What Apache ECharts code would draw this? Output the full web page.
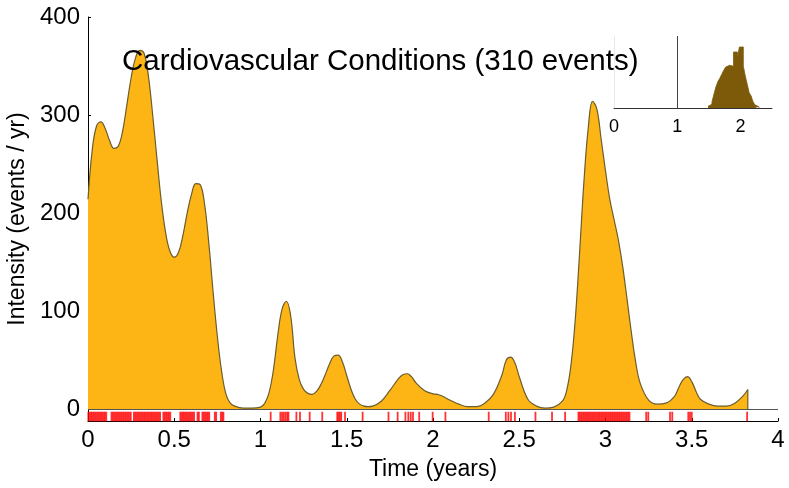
<!DOCTYPE html>
<html>
<head>
<meta charset="utf-8">
<script src="https://cdn.jsdelivr.net/npm/echarts@6/dist/echarts.min.js"></script>
<style>
  html, body { margin: 0; padding: 0; background: #fff; }
  #chart { width: 789px; height: 488px; }
</style>
</head>
<body>
<div id="chart"></div>
<script>
// ---- intensity curve (time in years, events / yr) ----
const curveTimes = [0, 0.025, 0.05, 0.075, 0.1, 0.125, 0.15, 0.175, 0.2, 0.225, 0.25, 0.275, 0.3, 0.325, 0.35, 0.375,
  0.4, 0.425, 0.45, 0.475, 0.5, 0.525, 0.55, 0.575, 0.6, 0.625, 0.65, 0.675, 0.7, 0.725, 0.75, 0.775, 0.8, 0.825, 0.85,
  0.9, 0.95, 1.0, 1.025, 1.05, 1.075, 1.1, 1.125, 1.15, 1.175, 1.2, 1.225, 1.25, 1.275, 1.3, 1.325, 1.35, 1.375, 1.4,
  1.425, 1.45, 1.475, 1.5, 1.525, 1.55, 1.575, 1.6, 1.625, 1.65, 1.7, 1.75, 1.8, 1.825, 1.85, 1.875, 1.9, 1.95, 2.0,
  2.025, 2.05, 2.1, 2.15, 2.2, 2.25, 2.3, 2.35, 2.4, 2.425, 2.45, 2.475, 2.5, 2.55, 2.6, 2.65, 2.7, 2.75, 2.775, 2.8,
  2.825, 2.85, 2.875, 2.9, 2.925, 2.95, 2.975, 3.0, 3.025, 3.05, 3.075, 3.1, 3.125, 3.15, 3.175, 3.2, 3.25, 3.3, 3.35,
  3.4, 3.425, 3.45, 3.475, 3.5, 3.525, 3.55, 3.6, 3.65, 3.7, 3.75, 3.8, 3.825]
const curveValues = [214, 265, 289, 293, 286, 274, 266, 268, 283, 310, 338, 358, 366, 363, 340, 300,
  255, 212, 180, 161, 155, 160, 177, 200, 219, 230, 229, 210, 170, 120, 74, 38, 15, 6, 3,
  1, 1, 2, 6, 17, 40, 75, 102, 110, 95, 52, 30, 20, 16, 15, 18, 25, 35, 46,
  54, 55, 48, 34, 20, 10, 5, 3, 2.5, 3, 8, 19, 31, 35, 36, 33, 27, 19, 15.5,
  15, 13.5, 9, 5, 2.5, 2.5, 6, 15, 35, 50, 53, 47, 33, 10, 3, 1, 2, 8, 19, 45,
  92, 160, 232, 287, 314, 306, 275, 243, 214, 193, 172, 145, 112, 78, 48, 27, 9, 5, 6,
  13, 22, 30, 33, 28, 18, 10, 5, 3, 3, 6, 14, 20]

// ---- event times (rug) ----
const eventTimes = [
  0.002, 0.010, 0.018, 0.026, 0.034, 0.042, 0.050, 0.058, 0.066, 0.074, 0.082, 0.090, 0.098, 0.106,
  0.136, 0.144, 0.152, 0.160, 0.168, 0.176, 0.184, 0.192, 0.200, 0.208, 0.216, 0.224, 0.232, 0.240, 0.248,
  0.266, 0.274, 0.282, 0.290, 0.298, 0.306, 0.314, 0.322, 0.330, 0.338, 0.346, 0.354, 0.362, 0.370, 0.378,
  0.386, 0.394, 0.402, 0.410, 0.418, 0.437, 0.445, 0.453, 0.461, 0.469, 0.477,
  0.535, 0.543, 0.551, 0.559, 0.567, 0.575, 0.583, 0.591, 0.599, 0.607, 0.615, 0.635, 0.643,
  0.663, 0.671, 0.679, 0.687, 0.695, 0.703, 0.735, 0.743, 0.770, 0.778, 0.785,
  1.059, 1.115, 1.125, 1.135, 1.145, 1.155, 1.162, 1.208, 1.229, 1.285, 1.358, 1.445, 1.452, 1.460, 1.468,
  1.490, 1.592, 1.742, 1.795, 1.840, 1.857, 1.871, 1.884, 1.920, 1.998, 2.072, 2.323, 2.422, 2.437, 2.452,
  2.475, 2.594, 2.690, 2.766,
  2.843, 2.851, 2.859, 2.867, 2.875, 2.883, 2.891, 2.899, 2.907, 2.915, 2.923, 2.931, 2.939, 2.947, 2.955,
  2.963, 2.971, 2.979, 2.987, 2.995, 3.003, 3.011, 3.019, 3.027, 3.035, 3.043, 3.051, 3.059, 3.067, 3.075,
  3.083, 3.091, 3.099, 3.107, 3.115, 3.123, 3.131, 3.139,
  3.236, 3.248, 3.374, 3.387, 3.480, 3.490, 3.500, 3.821]

// ---- inset histogram ----
const histStart = 1.488
const histBinWidth = 0.031
const histCounts = [1.7, 3.7, 6, 13.7, 21, 26.3, 29.7, 33.7, 37.7, 41, 42.7, 43, 41.7, 56, 56, 50.3,
  61, 61, 42, 32, 23.7, 15.3, 12, 6, 3, 1.3]
const insetRefLine = 1

const yTicks = [0, 100, 200, 300, 400]

const chart = echarts.init(document.getElementById('chart'))

const curveData = curveTimes.map((t, i) => [t, curveValues[i]])
const lastT = curveTimes[curveTimes.length - 1]
const lastV = curveValues[curveValues.length - 1]
const RUG_Y = -7.6
const rugData = eventTimes.map(t => [t, RUG_Y])

// step outline for histogram
const histData = histCounts.map((c, i) => [histStart + i * histBinWidth, c])
histData.push([histStart + histCounts.length * histBinWidth, 0])

const FONT = 'Liberation Sans, Arial, Helvetica, sans-serif'
const OUTLINE = '#6b5d2e'

const option = {
  animation: false,
  textStyle: { fontFamily: FONT },
  title: {
    text: 'Cardiovascular Conditions (310 events)',
    left: 117,
    top: 42,
    textStyle: { fontSize: 29.5, fontWeight: 'normal', color: '#000', fontFamily: FONT }
  },
  grid: [
    { left: 88, right: 11, top: 17, bottom: 67, outerBoundsMode: 'none' },
    { left: 614, right: 17, top: 36, height: 72, outerBoundsMode: 'none' }
  ],
  xAxis: [
    {
      gridIndex: 0,
      type: 'value',
      min: 0,
      max: 4,
      interval: 0.5,
      axisLine: { onZero: false, lineStyle: { color: '#000', width: 1 } },
      axisTick: { inside: true, length: 3, lineStyle: { color: '#000' } },
      axisLabel: { fontSize: 24, color: '#000', margin: 7 },
      splitLine: { show: false },
      name: 'Time (years)',
      nameLocation: 'middle',
      nameGap: 37,
      nameTextStyle: { fontSize: 23, color: '#000' }
    },
    {
      gridIndex: 1,
      type: 'value',
      min: 0,
      max: 2.5,
      interval: 1,
      axisLine: { onZero: false, lineStyle: { color: '#333', width: 1 } },
      axisTick: { show: false },
      axisLabel: { fontSize: 18, color: '#000', margin: 10, showMaxLabel: false },
      splitLine: { show: false }
    }
  ],
  yAxis: [
    {
      gridIndex: 0,
      type: 'value',
      min: -12.2,
      max: 400,
      axisLine: { show: true, lineStyle: { color: '#000', width: 1 } },
      axisTick: { show: true, inside: true, length: 3, customValues: yTicks, lineStyle: { color: '#000' } },
      axisLabel: { customValues: yTicks, fontSize: 24, color: '#000', margin: 8 },
      splitLine: { show: false },
      name: 'Intensity (events / yr)',
      nameLocation: 'middle',
      nameGap: 58,
      nameTextStyle: { fontSize: 23, color: '#000' }
    },
    {
      gridIndex: 1,
      type: 'value',
      min: 0,
      max: 72,
      axisLine: { show: true, lineStyle: { color: '#e8e8e8' } },
      axisTick: { show: false },
      axisLabel: { show: false },
      splitLine: { show: false }
    }
  ],
  series: [
    {
      name: 'intensity',
      type: 'line',
      xAxisIndex: 0,
      yAxisIndex: 0,
      data: curveData,
      smooth: 0.4,
      showSymbol: false,
      lineStyle: { color: OUTLINE, width: 1.2 },
      areaStyle: { color: '#fdb515', opacity: 1 },
      markLine: {
        silent: true,
        symbol: 'none',
        label: { show: false },
        lineStyle: { color: '#555', width: 1, type: 'solid' },
        data: [{ yAxis: 0 }]
      },
      z: 2
    },
    {
      name: 'edge',
      type: 'line',
      xAxisIndex: 0,
      yAxisIndex: 0,
      data: [[lastT, lastV], [lastT, 0]],
      showSymbol: false,
      lineStyle: { color: OUTLINE, width: 1.2 },
      z: 3
    },
    {
      name: 'events',
      type: 'scatter',
      xAxisIndex: 0,
      yAxisIndex: 0,
      data: rugData,
      symbol: 'rect',
      symbolSize: [1.8, 9.5],
      itemStyle: { color: '#ff0000' },
      z: 1
    },
    {
      name: 'inset',
      type: 'line',
      xAxisIndex: 1,
      yAxisIndex: 1,
      data: histData,
      step: 'end',
      showSymbol: false,
      lineStyle: { color: '#7c5a0a', width: 0.8 },
      areaStyle: { color: '#7c5a0a', opacity: 1 },
      markLine: {
        silent: true,
        symbol: 'none',
        label: { show: false },
        lineStyle: { color: '#444', width: 1, type: 'solid' },
        data: [{ xAxis: insetRefLine }]
      }
    }
  ]
}

chart.setOption(option)
</script>
</body>
</html>
